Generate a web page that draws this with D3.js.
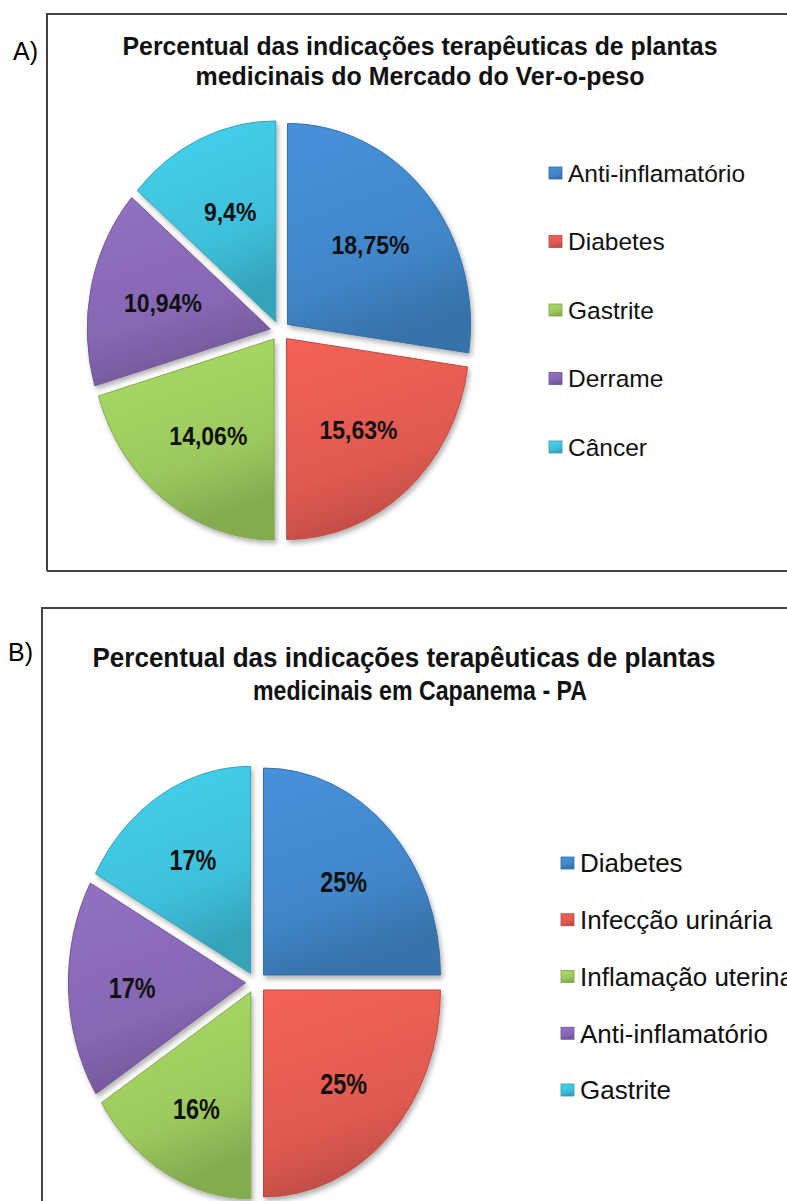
<!DOCTYPE html>
<html>
<head>
<meta charset="utf-8">
<script src="https://cdn.jsdelivr.net/npm/d3@7"></script>
<style>
  body { margin: 0; background: #fff; }
  svg { display: block; }
</style>
</head>
<body>
<div id="chart"></div>
<script>
// panel A - Mercado do Ver-o-peso
const categoriesA = ["Anti-inflamatório", "Diabetes", "Gastrite", "Derrame", "Câncer"];
const valuesA = [18.75, 15.63, 14.06, 10.94, 9.4];
const titleA = ["Percentual das indicações terapêuticas de plantas", "medicinais do Mercado do Ver-o-peso"];

// panel B - Capanema
const categoriesB = ["Diabetes", "Infecção urinária", "Inflamação uterina", "Anti-inflamatório", "Gastrite"];
const valuesB = [25, 25, 16, 17, 17];
const titleB = ["Percentual das indicações terapêuticas de plantas", "medicinais em Capanema - PA"];

const sliceColors = ["#4086c8", "#e05a50", "#9cc95e", "#8667b3", "#3ec0db"];

const width = 787, height = 1201;
const svg = d3.select("#chart").append("svg")
    .attr("width", width)
    .attr("height", height);

const defs = svg.append("defs");
sliceColors.forEach((c, i) => {
    const g = defs.append("linearGradient")
        .attr("id", "grad" + i)
        .attr("x1", 0).attr("y1", 0).attr("x2", 0.3).attr("y2", 1);
    g.append("stop").attr("offset", "0%").attr("stop-color", d3.color(c).brighter(0.25));
    g.append("stop").attr("offset", "70%").attr("stop-color", c);
    g.append("stop").attr("offset", "100%").attr("stop-color", d3.color(c).darker(0.45));
});
const shadow = defs.append("filter").attr("id", "shadow")
    .attr("x", "-20%").attr("y", "-20%").attr("width", "140%").attr("height", "140%");
shadow.append("feDropShadow")
    .attr("dx", 2).attr("dy", 3).attr("stdDeviation", 2.5)
    .attr("flood-color", "#000").attr("flood-opacity", 0.3);

const fmt = v => String(v).replace(".", ",") + "%";

// frames
svg.append("path")
    .attr("d", "M47,571 V14 H790 M47,571 H790")
    .attr("fill", "none").attr("stroke", "#444").attr("stroke-width", 2);
svg.append("path")
    .attr("d", "M42,1205 V608 H790")
    .attr("fill", "none").attr("stroke", "#444").attr("stroke-width", 2);

svg.append("text").attr("x", 13).attr("y", 60).text("A)")
    .style("font-family", "Liberation Sans, Arial, sans-serif").style("font-size", "25px");
svg.append("text").attr("x", 8).attr("y", 661).text("B)")
    .style("font-family", "Liberation Sans, Arial, sans-serif").style("font-size", "25px");

function drawTitle(lines, centers, ys, widths, size) {
    lines.forEach((t, i) => {
        svg.append("text")
            .attr("x", centers[i]).attr("y", ys[i])
            .attr("text-anchor", "middle")
            .attr("textLength", widths[i])
            .attr("lengthAdjust", "spacingAndGlyphs")
            .style("font-family", "Liberation Sans, Arial, sans-serif")
            .style("font-weight", "bold")
            .style("font-size", size + "px")
            .style("fill", "#111")
            .text(t);
    });
}

function drawPie(values, opts) {
    const { cx, cy, rx, ry, explode, labelR, fontSize, sx } = opts;
    const sy = ry / rx;
    const pie = d3.pie().sort(null).value(d => d);
    const arcs = pie(values);
    const arc = d3.arc().innerRadius(0).outerRadius(rx);
    const labelArc = d3.arc().innerRadius(rx * labelR).outerRadius(rx * labelR);
    const dir = d => {
        const a = (d.startAngle + d.endAngle) / 2;
        return [Math.sin(a), -Math.cos(a)];
    };

    const g = svg.append("g")
        .attr("transform", `translate(${cx},${cy}) scale(1,${sy})`);

    g.selectAll("path")
        .data(arcs)
        .enter()
        .append("path")
        .attr("d", arc)
        .attr("transform", d => {
            const [ux, uy] = dir(d);
            return `translate(${ux * explode},${uy * explode / sy})`;
        })
        .attr("fill", (d, i) => `url(#grad${i})`)
        .attr("stroke", (d, i) => d3.color(sliceColors[i]).darker(0.5))
        .attr("stroke-width", 1)
        .attr("vector-effect", "non-scaling-stroke")
        .attr("filter", "url(#shadow)");

    svg.selectAll(null)
        .data(arcs)
        .enter()
        .append("text")
        .attr("transform", d => {
            const [lx, ly] = labelArc.centroid(d);
            const [ux, uy] = dir(d);
            return `translate(${cx + lx + ux * explode},${cy + ly * sy + uy * explode}) scale(${sx},1)`;
        })
        .attr("text-anchor", "middle")
        .attr("dy", "0.36em")
        .style("font-family", "Liberation Sans, Arial, sans-serif")
        .style("font-weight", "bold")
        .style("font-size", fontSize + "px")
        .style("fill", "#111")
        .text(d => fmt(d.data));
}

function drawLegend(categories, opts) {
    const { x, y0, step, fontSize } = opts;
    categories.forEach((c, i) => {
        const row = svg.append("g").attr("transform", `translate(${x},${y0 + i * step})`);
        row.append("rect")
            .attr("x", 0).attr("y", -6)
            .attr("width", 13).attr("height", 12)
            .attr("fill", `url(#grad${i})`)
            .attr("stroke", d3.color(sliceColors[i]).darker(0.6))
            .attr("stroke-width", 0.8);
        row.append("text")
            .attr("x", 19).attr("dy", "0.36em")
            .style("font-family", "Liberation Sans, Arial, sans-serif")
            .style("font-size", fontSize + "px")
            .style("fill", "#111")
            .text(c);
    });
}

drawTitle(titleA, [420, 420], [55, 85], [595, 449], 26);
drawPie(valuesA, { cx: 280, cy: 331, rx: 183, ry: 201, explode: 10, labelR: 0.6, fontSize: 25, sx: 0.92 });
drawLegend(categoriesA, { x: 549, y0: 173, step: 68.5, fontSize: 24.5 });

drawTitle(titleB, [404, 420], [667, 700], [623, 334], 28);
drawPie(valuesB, { cx: 256, cy: 982.5, rx: 177, ry: 207, explode: 10.6, labelR: 0.64, fontSize: 30, sx: 0.78 });
drawLegend(categoriesB, { x: 561, y0: 863, step: 56.75, fontSize: 26 });
</script>
</body>
</html>
